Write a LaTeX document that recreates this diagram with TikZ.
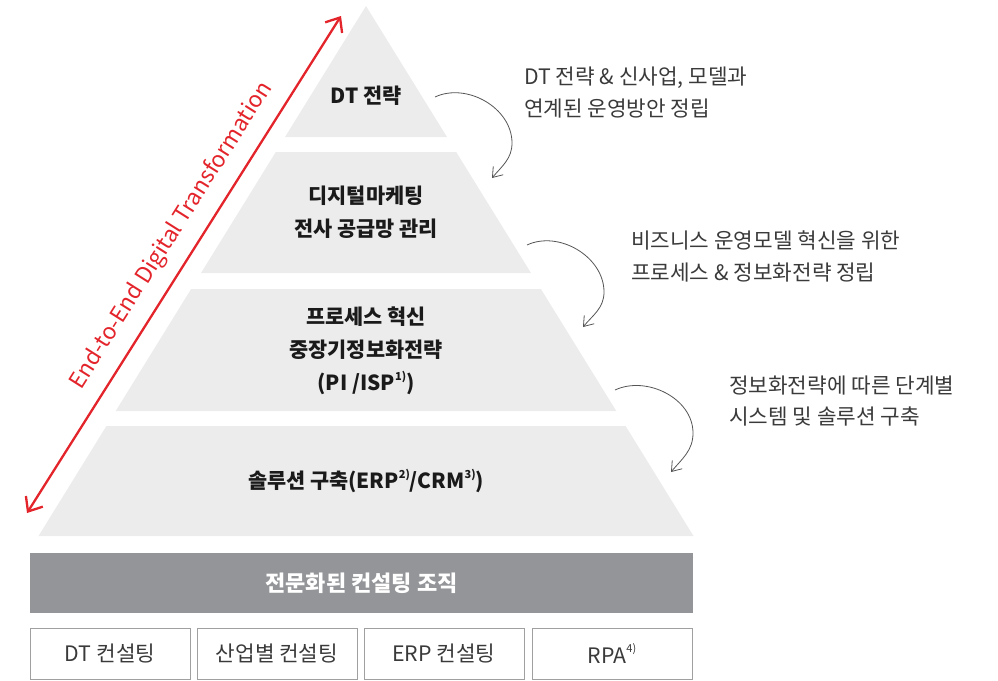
\documentclass[tikz,border=0pt]{standalone}
\usepackage{fontspec}
\setmainfont{Noto Sans CJK KR}
\usetikzlibrary{arrows.meta}
\definecolor{layergray}{HTML}{ECECEC}
\definecolor{bargray}{HTML}{939598}
\definecolor{boxline}{HTML}{A0A0A0}
\definecolor{dtred}{HTML}{E3242B}
\definecolor{notetext}{HTML}{3A3A3A}
\definecolor{lbltext}{HTML}{1A1A1A}
\definecolor{arrowgray}{HTML}{555555}
\newcommand\fnsup[1]{\raisebox{0.5em}{\fontsize{11}{11}\selectfont #1}}
\begin{document}
\begin{tikzpicture}[x=1pt,y=1pt,
  layer/.style={fill=layergray,draw=none},
  lbl/.style={font=\bfseries\fontsize{20.8}{33}\selectfont,align=center,text=lbltext,inner sep=0pt},
  note/.style={font=\fontsize{21.3}{31.5}\selectfont,align=left,text=notetext,inner sep=0pt,anchor=west},
  orgbar/.style={fill=bargray,draw=none,minimum width=663pt,minimum height=60pt,text=white,font=\bfseries\fontsize{22}{24}\selectfont,inner sep=0pt},
  unitbox/.style={draw=boxline,line width=0.8pt,fill=white,minimum width=160pt,minimum height=51pt,text=notetext,font=\fontsize{21.3}{24}\selectfont,inner sep=0pt},
  curvearrow/.style={draw=arrowgray,line width=0.8pt,-{Straight Barb[length=9pt,width=13pt]}},
  redarrow/.style={draw=dtred,line width=2.3pt,{Straight Barb[length=12pt,width=20pt]}-{Straight Barb[length=12pt,width=20pt]}},
  redlabel/.style={text=dtred,font=\fontsize{22.5}{23}\selectfont,inner sep=0pt}
]
\useasboundingbox (0,0) rectangle (998,-680);

% pyramid layers
\fill[layer] (366,-6) -- (447,-137) -- (285,-137) -- cycle;
\fill[layer] (275.8,-152) -- (456.2,-152) -- (531,-273) -- (201,-273) -- cycle;
\fill[layer] (191.1,-289) -- (540.9,-289) -- (616.3,-411) -- (115.7,-411) -- cycle;
\fill[layer] (106.4,-426) -- (625.6,-426) -- (693.5,-536) -- (38.5,-536) -- cycle;

% layer labels
\node[lbl] (l1) at (366,-96) {DT 전략};
\node[lbl] (l2) at (366,-212) {디지털마케팅\\전사 공급망 관리};
\node[lbl] (l3) at (366,-351) {프로세스 혁신\\중장기정보화전략\\(PI /ISP\fnsup{1)})};
\node[lbl] (l4) at (366,-481) {솔루션 구축(ERP\fnsup{2)}/CRM\fnsup{3)})};

% organisation bar and units
\node[orgbar] (org) at (361.5,-583) {전문화된 컨설팅 조직};
\node[unitbox] (u1) at (110,-653.5) {DT 컨설팅};
\node[unitbox] (u2) at (277,-653.5) {산업별 컨설팅};
\node[unitbox] (u3) at (444,-653.5) {ERP 컨설팅};
\node[unitbox] (u4) at (612,-653.5) {RPA\fnsup{4)}};

% notes
\node[note] (n1) at (524,-92.5) {DT 전략 \& 신사업, 모델과\\연계된 운영방안 정립};
\node[note] (n2) at (631,-256.5) {비즈니스 운영모델 혁신을 위한\\프로세스 \& 정보화전략 정립};
\node[note] (n3) at (729,-401) {정보화전략에 따른 단계별\\시스템 및 솔루션 구축};

% curved arrows
\coordinate (s1) at (435,-97);  \coordinate (r1) at (512,-143); \coordinate (e1) at (492,-178);
\coordinate (s2) at (527,-245); \coordinate (r2) at (604,-292); \coordinate (e2) at (583,-327);
\coordinate (s3) at (615,-390); \coordinate (r3) at (693,-433); \coordinate (e3) at (671,-472);
\draw[curvearrow] (s1) to[out=25,in=90] (r1) to[out=-90,in=50] (e1);
\draw[curvearrow] (s2) to[out=25,in=90] (r2) to[out=-90,in=50] (e2);
\draw[curvearrow] (s3) to[out=25,in=90] (r3) to[out=-90,in=50] (e3);

% red double arrow
\coordinate (rb) at (27,-513);
\coordinate (rt) at (341,-16);
\draw[redarrow] (rb) -- node[redlabel,pos=0.53,sloped,above=13pt] (dtl) {End-to-End Digital Transformation} (rt);
\end{tikzpicture}
\end{document}
